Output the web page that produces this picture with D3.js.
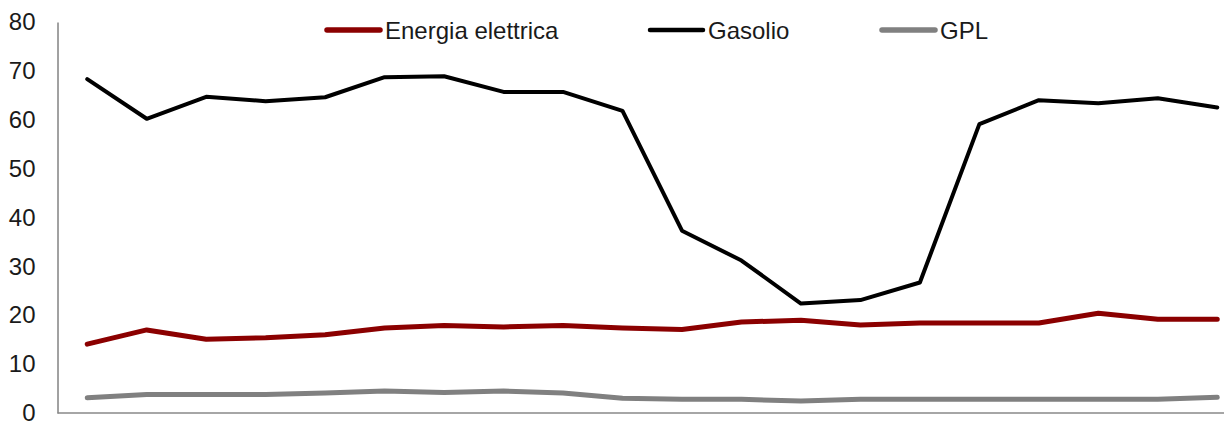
<!DOCTYPE html>
<html>
<head>
<meta charset="utf-8">
<script src="https://cdn.jsdelivr.net/npm/d3@7"></script>
<style>
  html, body { margin: 0; padding: 0; background: #fff; }
  svg { display: block; font-family: "Liberation Sans", Arial, sans-serif; }
</style>
</head>
<body>
<svg id="chart" width="1224" height="423"></svg>
<script>
// Periodi (asse orizzontale senza etichette)
const periodi = d3.range(1, 21).map(String);

// Valori delle serie
const energiaElettrica = [14.1, 17.0, 15.1, 15.4, 16.0, 17.4, 17.9, 17.6, 17.9, 17.4,
                          17.1, 18.6, 19.0, 18.0, 18.4, 18.4, 18.4, 20.4, 19.2, 19.2];
const gasolio = [68.3, 60.2, 64.7, 63.8, 64.6, 68.7, 68.9, 65.7, 65.7, 61.8,
                 37.3, 31.2, 22.4, 23.1, 26.7, 59.1, 64.0, 63.4, 64.4, 62.5];
const gpl = [3.1, 3.8, 3.8, 3.8, 4.1, 4.5, 4.2, 4.5, 4.1, 3.0,
             2.8, 2.8, 2.45, 2.8, 2.8, 2.8, 2.8, 2.8, 2.8, 3.2];

// Tick dell'asse verticale
const yTicks = [0, 10, 20, 30, 40, 50, 60, 70, 80];

const series = [
  { name: "Energia elettrica", values: energiaElettrica, color: "#8b0000", width: 5 },
  { name: "Gasolio", values: gasolio, color: "#000000", width: 4 },
  { name: "GPL", values: gpl, color: "#808080", width: 5 }
];

const svg = d3.select("#chart");
const mLeft = 57.5, mRight = 1247, mTop = 22, mBottom = 413;

const x = d3.scalePoint().domain(periodi).range([mLeft, mRight]).padding(0.5);
const y = d3.scaleLinear().domain([0, 80]).range([mBottom, mTop]);

// Asse verticale
const yAxis = svg.append("g").attr("transform", `translate(${mLeft},0)`)
  .call(d3.axisLeft(y).tickValues(yTicks).tickSize(0).tickPadding(22));
yAxis.select(".domain").attr("stroke", "#444").attr("stroke-width", 1);
yAxis.selectAll("text")
  .attr("font-size", 24)
  .attr("fill", "#1a1a1a")
  .attr("font-family", "'Liberation Sans', Arial, sans-serif");

// Asse orizzontale
svg.append("line")
  .attr("x1", mLeft).attr("x2", 1224)
  .attr("y1", y(0)).attr("y2", y(0))
  .attr("stroke", "#888").attr("stroke-width", 1.5);

// Linee
const line = d3.line().x((d, i) => x(periodi[i])).y(d => y(d));
series.forEach(s => {
  svg.append("path")
    .datum(s.values)
    .attr("d", line)
    .attr("fill", "none")
    .attr("stroke", s.color)
    .attr("stroke-width", s.width)
    .attr("stroke-linejoin", "round")
    .attr("stroke-linecap", "round");
});

// Legenda
const legendX = [327, 650, 882];
const legend = svg.append("g");
series.forEach((s, i) => {
  const g = legend.append("g").attr("transform", `translate(${legendX[i]},30)`);
  g.append("line").attr("x1", 0).attr("x2", 53).attr("y1", 0).attr("y2", 0)
    .attr("stroke", s.color).attr("stroke-width", s.width + 0.5)
    .attr("stroke-linecap", "round");
  g.append("text").attr("x", 58).attr("y", 9)
    .attr("font-size", 24).attr("fill", "#1a1a1a")
    .text(s.name);
});
</script>
</body>
</html>
